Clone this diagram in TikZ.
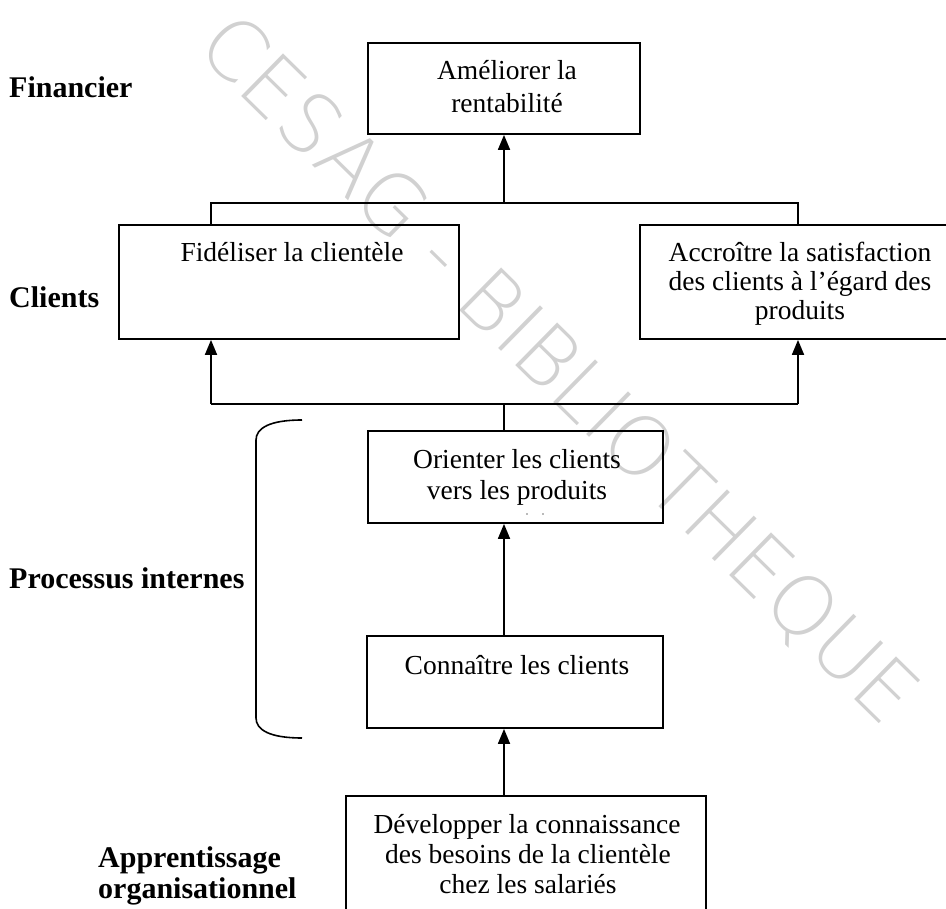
\documentclass[tikz,border=0pt]{standalone}
\usepackage{fontspec}
\setmainfont{Liberation Serif}
\IfFontExistsTF{DejaVu Sans ExtraLight}
  {\newfontfamily\wmfont{DejaVu Sans ExtraLight}}
  {\newfontfamily\wmfont{DejaVu Sans}}
\usetikzlibrary{arrows.meta}
\begin{document}
\begin{tikzpicture}[x=1pt,y=-1pt,
  box/.style={draw, line width=1.8pt, rectangle, inner sep=0pt},
  txt/.style={font=\fontsize{27.5}{30}\selectfont, inner sep=0pt, anchor=base},
  lab/.style={font=\fontsize{30}{32}\selectfont\bfseries, inner sep=0pt, anchor=base west},
  link/.style={line width=1.8pt},
  arr/.style={link, -{Triangle[length=15pt,width=12pt]}},
  brace/.style={line width=1.6pt},
  wm/.style={font=\wmfont\fontsize{82}{82}\selectfont, text=black!18, inner sep=0pt}
]
\useasboundingbox (0,0) rectangle (946,909);
\clip (0,0) rectangle (946,909);

% watermark
\node[wm, rotate=-44.5, anchor=base] (wmark) at (539.5,389) {CESAG - BIBLIOTHEQUE};

% boxes
\node[box, minimum width=272pt, minimum height=91pt]  (top) at (504,88.5) {};
\node[box, minimum width=340pt, minimum height=114pt] (fid) at (289,282) {};
\node[box, minimum width=318pt, minimum height=114pt] (acc) at (799,282) {};
\node[box, minimum width=295pt, minimum height=92pt]  (ori) at (515.5,477) {};
\node[box, minimum width=296pt, minimum height=92pt]  (con) at (515,682) {};
\node[box, minimum width=360pt, minimum height=116pt] (dev) at (526,854) {};

% box texts
\node[txt] (top1) at (507,80)  {Améliorer la};
\node[txt] (top2) at (507,113) {rentabilité};
\node[txt] (fid1) at (292,262) {Fidéliser la clientèle};
\node[txt] (acc1) at (800,262) {Accroître la satisfaction};
\node[txt] (acc2) at (800,291) {des clients à l’égard des};
\node[txt] (acc3) at (800,320) {produits};
\node[txt] (ori1) at (517,468) {Orienter les clients};
\node[txt] (ori2) at (517,500) {vers les produits};
\node[txt] (con1) at (517,674) {Connaître les clients};
\node[txt] (dev1) at (527,833) {Développer la connaissance};
\node[txt] (dev2) at (528,863) {des besoins de la clientèle};
\node[txt] (dev3) at (528,893) {chez les salariés};
\fill[black!55] (527,514) circle (0.9) (543,514) circle (0.9);

% perspective labels
\node[lab] (fin) at (9,98)  {Financier};
\node[lab] (cli) at (9,308) {Clients};
\node[lab] (pro) at (9,588) {Processus internes};
\node[lab] (app1) at (98,867) {Apprentissage};
\node[lab] (app2) at (98,898) {organisationnel};

% connectors
\coordinate (j1) at (504,203);
\coordinate (l1) at (211,203);
\coordinate (r1) at (798,203);
\coordinate (j2) at (504,404);
\coordinate (l2) at (211,404);
\coordinate (r2) at (798,404);

\draw[arr] (j1) -- (top.south);
\draw[link] (l1 |- fid.north) -- (l1) -- (r1) -- (r1 |- acc.north);
\draw[link] (l2) -- (r2);
\draw[arr] (l2) -- (l2 |- fid.south);
\draw[arr] (r2) -- (r2 |- acc.south);
\draw[link] (j2) -- (j2 |- ori.north);
\draw[arr] (j1 |- con.north) -- (j1 |- ori.south);
\draw[arr] (j1 |- dev.north) -- (j1 |- con.south);

% bracket grouping the internal processes
\draw[brace] (302,420) .. controls (270,420) and (256,428) .. (256,440)
  -- (256,718) .. controls (256,730) and (270,738) .. (302,738);
\end{tikzpicture}
\end{document}
